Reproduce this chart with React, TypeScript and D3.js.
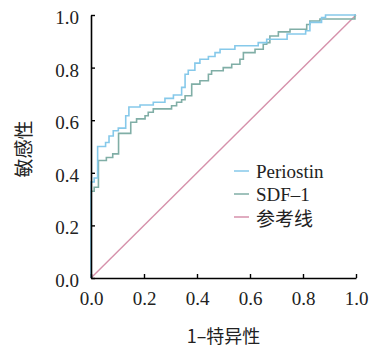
import { useEffect, useRef } from 'react';
import * as d3 from 'd3';

// ROC points (1-specificity, sensitivity), step after each point
const periostinFpr = [0, 0, 0.012, 0.025, 0.055, 0.068, 0.084, 0.103, 0.131, 0.143, 0.185, 0.235, 0.279, 0.311, 0.342, 0.355, 0.367, 0.392, 0.411, 0.443, 0.468, 0.487, 0.543, 0.631, 0.663, 0.74, 0.81, 0.826, 0.87, 0.885, 1.0];
const periostinTpr = [0, 0.365, 0.38, 0.5, 0.515, 0.54, 0.56, 0.57, 0.617, 0.65, 0.658, 0.668, 0.683, 0.696, 0.725, 0.775, 0.79, 0.817, 0.832, 0.842, 0.857, 0.87, 0.883, 0.895, 0.908, 0.928, 0.94, 0.972, 0.99, 1.0, 1.0];
const sdfFpr = [0, 0, 0.012, 0.028, 0.058, 0.082, 0.104, 0.15, 0.172, 0.204, 0.216, 0.235, 0.304, 0.323, 0.342, 0.355, 0.38, 0.411, 0.443, 0.455, 0.499, 0.531, 0.562, 0.575, 0.619, 0.65, 0.663, 0.675, 0.707, 0.751, 0.814, 0.826, 0.864, 0.996, 1.0];
const sdfTpr = [0, 0.33, 0.345, 0.447, 0.458, 0.472, 0.55, 0.592, 0.605, 0.617, 0.63, 0.643, 0.655, 0.668, 0.678, 0.693, 0.737, 0.75, 0.775, 0.788, 0.8, 0.813, 0.832, 0.857, 0.87, 0.889, 0.895, 0.92, 0.936, 0.946, 0.964, 0.977, 0.985, 1.0, 1.0];
const refLine = [0, 1];

const tickValues = [0, 0.2, 0.4, 0.6, 0.8, 1.0];
const seriesNames = ['Periostin', 'SDF–1', '参考线'];
const seriesColors = ['#86c9ea', '#80aea6', '#d691ab'];

const W = 372;
const H = 347;
const margin = { top: 15, right: 16, bottom: 69, left: 91 };
const serif = '"Liberation Serif", "DejaVu Serif", serif';
const cjk = '"Noto Sans CJK SC", sans-serif';

export default function App() {
  const svgRef = useRef<SVGSVGElement>(null);

  useEffect(() => {
    const svg = d3.select(svgRef.current);
    svg.selectAll('*').remove();

    const iw = W - margin.left - margin.right;
    const ih = H - margin.top - margin.bottom;
    const x = d3.scaleLinear().domain([0, 1]).range([0, iw]);
    const y = d3.scaleLinear().domain([0, 1]).range([ih, 0]);

    const g = svg.append('g').attr('transform', `translate(${margin.left},${margin.top})`);

    // diagonal reference
    g.append('line')
      .attr('x1', x(refLine[0])).attr('y1', y(refLine[0]))
      .attr('x2', x(refLine[1])).attr('y2', y(refLine[1]))
      .attr('stroke', seriesColors[2]).attr('stroke-width', 1.4);

    const line = d3.line<[number, number]>()
      .x(d => x(d[0]))
      .y(d => y(d[1]))
      .curve(d3.curveStepAfter);

    const series: [number, number][][] = [
      periostinFpr.map((f, i) => [f, periostinTpr[i]]),
      sdfFpr.map((f, i) => [f, sdfTpr[i]]),
    ];
    // draw SDF-1 first, Periostin on top
    [1, 0].forEach(k => {
      g.append('path')
        .attr('d', line(series[k]))
        .attr('fill', 'none')
        .attr('stroke', seriesColors[k])
        .attr('stroke-width', 1.6);
    });

    // axes
    const xAxis = g.append('g')
      .attr('transform', `translate(0,${ih})`)
      .call(d3.axisBottom(x).tickValues(tickValues).tickSizeInner(-4).tickSizeOuter(0).tickFormat(d3.format('.1f')));
    const yAxis = g.append('g')
      .call(d3.axisLeft(y).tickValues(tickValues).tickSizeInner(-4).tickSizeOuter(0).tickFormat(d3.format('.1f')));

    [xAxis, yAxis].forEach(a => {
      a.select('.domain').attr('stroke', '#000').attr('stroke-width', 1.6);
      a.selectAll('.tick line').attr('stroke', '#000').attr('stroke-width', 1.4);
      a.selectAll('.tick text')
        .attr('fill', '#222')
        .style('font-family', serif)
        .style('font-size', '19px');
    });
    xAxis.selectAll('.tick text').attr('y', 14).attr('dy', '0.71em');
    yAxis.selectAll('.tick text').attr('x', -12).attr('dy', '0.45em');

    // axis titles
    svg.append('text')
      .attr('x', margin.left + iw / 2)
      .attr('y', 335)
      .attr('text-anchor', 'middle')
      .attr('dominant-baseline', 'central')
      .attr('fill', '#222')
      .style('font-family', cjk)
      .style('font-size', '18px')
      .text('1–特异性');

    svg.append('text')
      .attr('transform', `translate(22,149) rotate(-90)`)
      .attr('text-anchor', 'middle')
      .attr('dominant-baseline', 'central')
      .attr('fill', '#222')
      .style('font-family', cjk)
      .style('font-size', '19px')
      .text('敏感性');

    // legend
    const legend = svg.append('g').attr('transform', 'translate(234,171)');
    seriesNames.forEach((name, i) => {
      const row = legend.append('g').attr('transform', `translate(0,${i * 23})`);
      row.append('line')
        .attr('x1', 0).attr('x2', 15)
        .attr('stroke', seriesColors[i]).attr('stroke-width', 1.5);
      row.append('text')
        .attr('x', 22)
        .attr('dominant-baseline', 'central')
        .attr('fill', '#222')
        .style('font-family', i === 2 ? cjk : serif)
        .style('font-size', '19px')
        .text(name);
    });
  }, []);

  return (
    <svg
      ref={svgRef}
      width={W}
      height={H}
      style={{ position: 'absolute', left: 0, top: 0, background: '#fff' }}
    />
  );
}
